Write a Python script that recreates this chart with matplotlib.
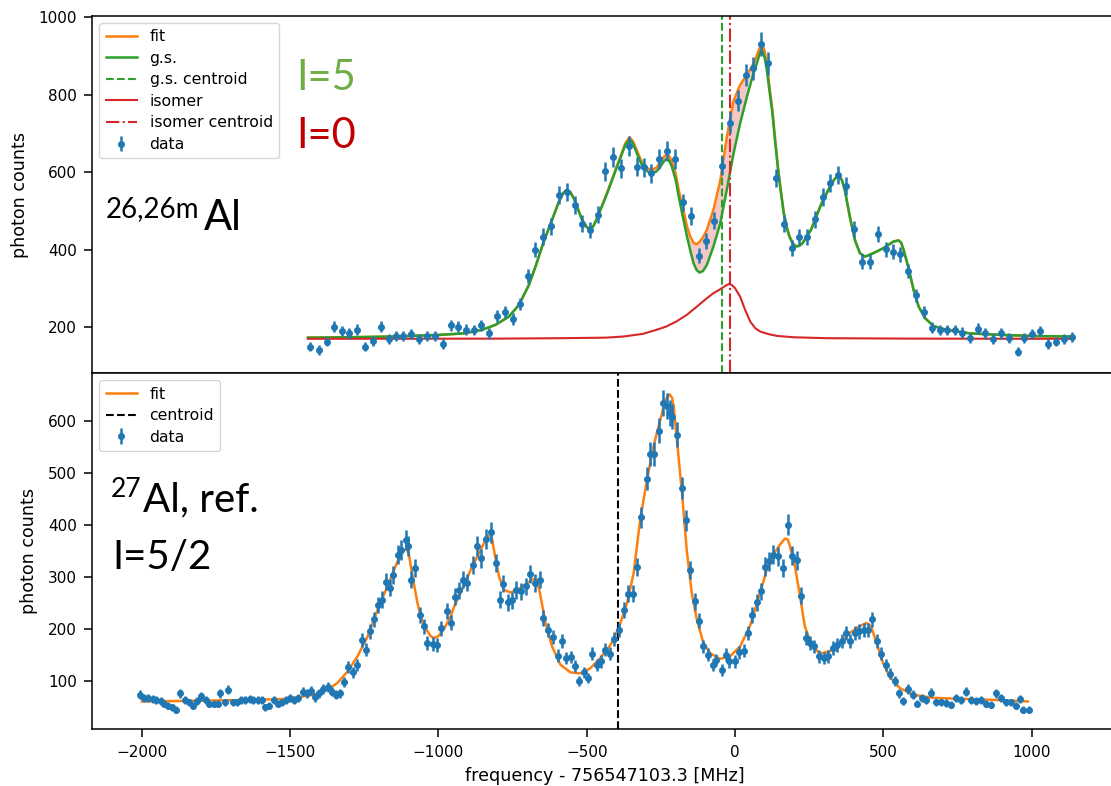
import numpy as np
import matplotlib
matplotlib.use("Agg")
import matplotlib.pyplot as plt

plt.rcParams['font.size'] = 11
plt.rcParams['axes.labelsize'] = 12.6
plt.rcParams['axes.linewidth'] = 1.1
plt.rcParams['xtick.major.size'] = 6
plt.rcParams['ytick.major.size'] = 6
plt.rcParams['xtick.major.width'] = 1.1
plt.rcParams['ytick.major.width'] = 1.1
plt.rcParams['xtick.major.pad'] = 5
plt.rcParams['ytick.major.pad'] = 5

# ---------------- top panel (26,26mAl) ----------------
top_x = [-1433, -1404, -1377, -1351, -1326, -1300, -1275, -1248, -1222, -1195,
         -1168, -1144, -1119, -1093, -1065, -1039, -1012, -986, -959, -933,
         -908, -881, -855, -830, -803, -777, -750, -725, -699, -673,
         -646, -620, -594, -567, -541, -516, -490, -463, -437, -411,
         -384, -358, -331, -308, -284, -256, -229, -202, -174, -147,
         -121, -99, -72, -45, -18, 9, 36, 62, 88, 111,
         138, 165, 191, 216, 243, 270, 297, 320, 348, 373,
         400, 427, 454, 481, 508, 534, 557, 583, 610, 637,
         664, 690, 716, 743, 765, 792, 819, 844, 871, 898,
         925, 953, 975, 1001, 1028, 1055, 1082, 1109, 1136]
top_counts = [150, 141, 163, 201, 190, 184, 194, 150, 165, 201,
              170, 178, 178, 182, 170, 178, 178, 157, 205, 201,
              194, 193, 205, 184, 229, 239, 221, 260, 332, 400,
              434, 460, 541, 550, 515, 467, 451, 490, 602, 640,
              610, 668, 614, 613, 597, 634, 655, 634, 522, 487,
              385, 423, 475, 617, 728, 785, 851, 868, 931, 881,
              585, 467, 405, 432, 432, 479, 537, 572, 593, 565,
              454, 369, 369, 441, 401, 395, 388, 345, 283, 239,
              199, 193, 193, 193, 186, 172, 196, 184, 170, 184,
              173, 137, 172, 182, 190, 156, 163, 170, 174]

top_curve_x = [-1440, -1300, -1150, -1000, -915, -854, -808, -763, -729, -695,
               -673, -645, -617, -594, -580, -569, -555, -543, -516, -500,
               -490, -478, -465, -431, -398, -370, -356, -345, -336, -320,
               -308, -295, -280, -265, -252, -240, -232, -222, -213, -200,
               -190, -176, -162, -150, -140, -130, -120, -108, -95, -73,
               -50, -28, -5, 17, 40, 62, 75, 85, 92, 100,
               107, 116, 126, 135, 145, 155, 164, 175, 183, 195,
               206, 217, 228, 256, 292, 320, 335, 348, 360, 370,
               387, 404, 421, 438, 466, 500, 534, 551, 560, 568,
               585, 602, 619, 641, 669, 713, 792, 904, 1016, 1134]
gs_curve = [173, 174, 176, 180, 184, 193, 206, 227, 257, 309,
            356, 421, 477, 524, 545, 554, 548, 531, 477, 458,
            453, 460, 481, 546, 614, 670, 685, 675, 658, 628,
            610, 602, 597, 602, 614, 628, 634, 630, 614, 580,
            537, 485, 434, 395, 365, 348, 341, 345, 361, 408,
            468, 554, 649, 726, 795, 855, 885, 911, 913, 895,
            864, 810, 752, 680, 606, 545, 494, 455, 434, 415,
            408, 410, 417, 451, 520, 563, 582, 592, 580, 554,
            485, 425, 391, 382, 391, 404, 421, 424, 418, 400,
            352, 296, 253, 223, 203, 193, 184, 180, 177, 176]
fit_curve = [173, 174, 176, 180, 184, 193, 206, 227, 257, 309,
             356, 421, 477, 524, 545, 554, 549, 532, 478, 459,
             454, 461, 482, 548, 617, 675, 690, 681, 665, 636,
             618, 610, 606, 612, 626, 640, 645, 642, 628, 596,
             554, 508, 460, 432, 418, 414, 420, 432, 452, 503,
             578, 690, 785, 825, 852, 880, 905, 925, 930, 912,
             878, 822, 760, 686, 611, 549, 497, 457, 436, 416,
             409, 411, 418, 452, 521, 563, 582, 592, 580, 554,
             485, 425, 391, 382, 391, 404, 421, 424, 418, 400,
             352, 296, 253, 223, 203, 193, 184, 180, 177, 176]

iso_x = [-1440, -800, -589, -437, -378, -311, -266, -232, -198, -163,
         -129, -95, -73, -50, -33, -21, -11, 0, 17, 34,
         51, 68, 85, 113, 141, 197, 310, 600, 1136]
iso_curve = [170, 170.5, 171.6, 173, 175.8, 182.7, 193, 201.7, 214.6, 231.7,
             253, 274.8, 287.7, 298, 306.6, 311.7, 309, 300.6, 279, 244.6,
             214.6, 197.4, 188.8, 182, 177.6, 174, 171.6, 170.5, 170]

gs_centroid = -43
iso_centroid = -16

# ---------------- bottom panel (27Al) ----------------
bot_x = [-2007, -1992, -1979, -1964, -1951, -1937, -1925, -1912, -1898, -1886,
         -1870, -1856, -1841, -1828, -1813, -1800, -1785, -1772, -1757, -1743,
         -1735, -1721, -1708, -1693, -1680, -1665, -1652, -1637, -1624, -1609,
         -1595, -1584, -1570, -1555, -1542, -1528, -1514, -1499, -1486, -1472,
         -1458, -1444, -1430, -1416, -1402, -1388, -1373, -1360, -1346, -1332,
         -1320, -1304, -1289, -1273, -1259, -1245, -1230, -1217, -1205, -1192,
         -1177, -1163, -1153, -1138, -1125, -1110, -1102, -1091, -1080, -1062,
         -1048, -1037, -1020, -1006, -992, -972, -959, -945, -931, -916,
         -905, -883, -871, -856, -839, -824, -807, -793, -782, -765,
         -751, -737, -723, -706, -692, -673, -659, -647, -631, -614,
         -598, -583, -569, -553, -538, -526, -508, -496, -481, -465,
         -452, -437, -420, -407, -391, -376, -362, -345, -331, -317,
         -298, -286, -272, -256, -243, -230, -221, -211, -196, -178,
         -166, -151, -135, -123, -107, -90, -75, -64, -45, -30,
         -19, -1, 14, 30, 45, 58, 75, 87, 101, 115,
         129, 146, 163, 178, 193, 210, 222, 239, 252, 266,
         284, 299, 314, 329, 344, 359, 373, 389, 404, 418,
         434, 448, 463, 477, 493, 508, 521, 538, 553, 566,
         583, 600, 614, 631, 645, 661, 678, 695, 712, 729,
         746, 762, 779, 796, 813, 830, 847, 863, 880, 897,
         914, 931, 947, 959, 972, 990]
bot_counts = [73, 67, 67, 65, 63, 60, 56, 52, 49, 44,
              76, 62, 58, 52, 60, 70, 63, 56, 56, 56,
              76, 58, 83, 58, 58, 62, 63, 65, 63, 63,
              62, 49, 52, 63, 56, 58, 62, 67, 63, 67,
              79, 76, 81, 68, 76, 84, 88, 79, 73, 76,
              97, 126, 116, 131, 179, 160, 195, 218, 246, 256,
              291, 279, 304, 343, 352, 372, 359, 295, 317, 227,
              205, 173, 171, 169, 201, 234, 212, 262, 274, 295,
              289, 323, 359, 336, 373, 386, 327, 256, 287, 251,
              255, 275, 272, 282, 306, 288, 295, 221, 198, 185,
              148, 176, 144, 146, 129, 99, 116, 105, 152, 131,
              137, 160, 152, 180, 198, 237, 268, 268, 319, 415,
              489, 537, 537, 582, 636, 629, 616, 609, 574, 471,
              409, 313, 253, 216, 166, 150, 131, 140, 121, 150,
              137, 137, 155, 158, 192, 227, 251, 272, 320, 330,
              343, 340, 317, 401, 341, 332, 264, 182, 173, 166,
              147, 144, 147, 163, 169, 176, 192, 176, 192, 195,
              198, 198, 218, 176, 152, 131, 113, 99, 76, 60,
              84, 73, 56, 67, 63, 77, 58, 58, 57, 54,
              67, 63, 79, 63, 60, 63, 56, 54, 76, 67,
              58, 58, 52, 65, 44, 44]

bot_curve_x = [-2000, -1844, -1620, -1508, -1418, -1373, -1340, -1306, -1273, -1239,
               -1205, -1172, -1138, -1116, -1108, -1100, -1093, -1082, -1071, -1060,
               -1048, -1026, -1015, -1000, -981, -959, -947, -925, -891, -858,
               -835, -826, -818, -813, -796, -779, -757, -734, -701, -680,
               -670, -660, -650, -639, -617, -589, -555, -521, -488, -454,
               -420, -392, -364, -342, -320, -297, -275, -252, -235, -221,
               -212, -207, -194, -179, -163, -146, -129, -107, -84, -51,
               -17, 17, 50, 84, 107, 129, 151, 168, 178, 185,
               202, 219, 235, 258, 286, 320, 353, 387, 420, 441,
               450, 460, 477, 499, 521, 555, 600, 667, 757, 869, 987]
bot_fit = [60, 61, 63, 65, 73, 83, 96, 118, 147, 185,
           237, 282, 330, 352, 354, 345, 320, 285, 250, 225,
           205, 186, 182, 186, 200, 224, 243, 270, 314, 352,
           378, 381, 370, 352, 301, 275, 270, 275, 288, 296,
           295, 275, 245, 211, 166, 131, 116, 114, 124, 144,
           169, 202, 250, 307, 410, 487, 552, 603, 641, 652,
           645, 629, 552, 462, 352, 269, 218, 173, 153, 142,
           147, 166, 205, 268, 314, 343, 362, 374, 372, 359,
           320, 263, 205, 169, 152, 157, 173, 192, 205, 211,
           209, 202, 173, 134, 108, 86, 73, 67, 65, 63, 60]
bot_centroid = -395

# ---------------- figure ----------------
W, H = 1111, 786
fig = plt.figure(figsize=(W / 100, H / 100), dpi=100)
left = 92.3 / W
width = 1025.4 / W
ax1 = fig.add_axes([left, 1 - 373.3 / H, width, (373.3 - 15.7) / H])
ax2 = fig.add_axes([left, 1 - 729.3 / H, width, (729.3 - 373.3) / H])

c_blue, c_orange, c_green, c_red = '#1f77b4', '#ff7f0e', '#2ca02c', '#d62728'
leg_kw = dict(loc='upper left', fontsize=11.3, labelspacing=0.42,
              borderaxespad=0.45)
eb_kw = dict(fmt='o', ms=4, color=c_blue, elinewidth=1.8, capsize=0)

tx = np.array(top_curve_x)
ax1.fill_between(tx, gs_curve, fit_curve, color=c_red, alpha=0.25, lw=0)
ax1.plot(tx, fit_curve, color=c_orange, lw=1.8, label='fit')
ax1.plot(tx, gs_curve, color=c_green, lw=1.8, label='g.s.')
ax1.axvline(gs_centroid, color=c_green, ls='--', lw=1.5, label='g.s. centroid')
ax1.plot(iso_x, iso_curve, color=c_red, lw=1.5, label='isomer')
ax1.axvline(iso_centroid, color=c_red, ls='-.', lw=1.5, label='isomer centroid')
ax1.errorbar(top_x, top_counts, yerr=np.sqrt(top_counts), label='data', **eb_kw)
ax1.set_xlim(-2167, 1290)
ax1.set_ylim(81, 1004)
ax1.set_yticks([200, 400, 600, 800, 1000])
ax1.tick_params(axis='x', bottom=False, labelbottom=False)
ax1.set_ylabel('photon counts', labelpad=6.5)
ax1.legend(**leg_kw)

ax2.plot(bot_curve_x, bot_fit, color=c_orange, lw=1.8, label='fit')
ax2.axvline(bot_centroid, color='black', ls='--', lw=1.5, label='centroid')
ax2.errorbar(bot_x, bot_counts, yerr=np.sqrt(bot_counts), label='data', **eb_kw)
ax2.set_xlim(-2167, 1290)
ax2.set_ylim(6.3, 692.5)
ax2.set_yticks([100, 200, 300, 400, 500, 600])
ax2.set_xticks([-2000, -1500, -1000, -500, 0, 500, 1000])
ax2.set_xlabel('frequency - 756547103.3 [MHz]', labelpad=5)
ax2.set_ylabel('photon counts', labelpad=7)
ax2.legend(**leg_kw)

# ---------------- annotations ----------------
af = 'Lato'
def ftext(px, py, s, size, color='black'):
    fig.text(px / W, 1 - py / H, s, fontsize=size, color=color,
             family=af, va='baseline', ha='left')

ftext(296.4, 90, 'I=5', 30, '#70AD47')
ftext(296.4, 148.3, 'I=0', 30, '#C00000')
ftext(106, 216.7, '26,26m', 20)
ftext(204, 230, 'Al', 30)
ftext(110.7, 496.7, '27', 19)
ftext(142.9, 511.7, 'Al, ref.', 29)
ftext(112.7, 569, 'I=5/2', 29)

fig.savefig('out.png', dpi=100)
